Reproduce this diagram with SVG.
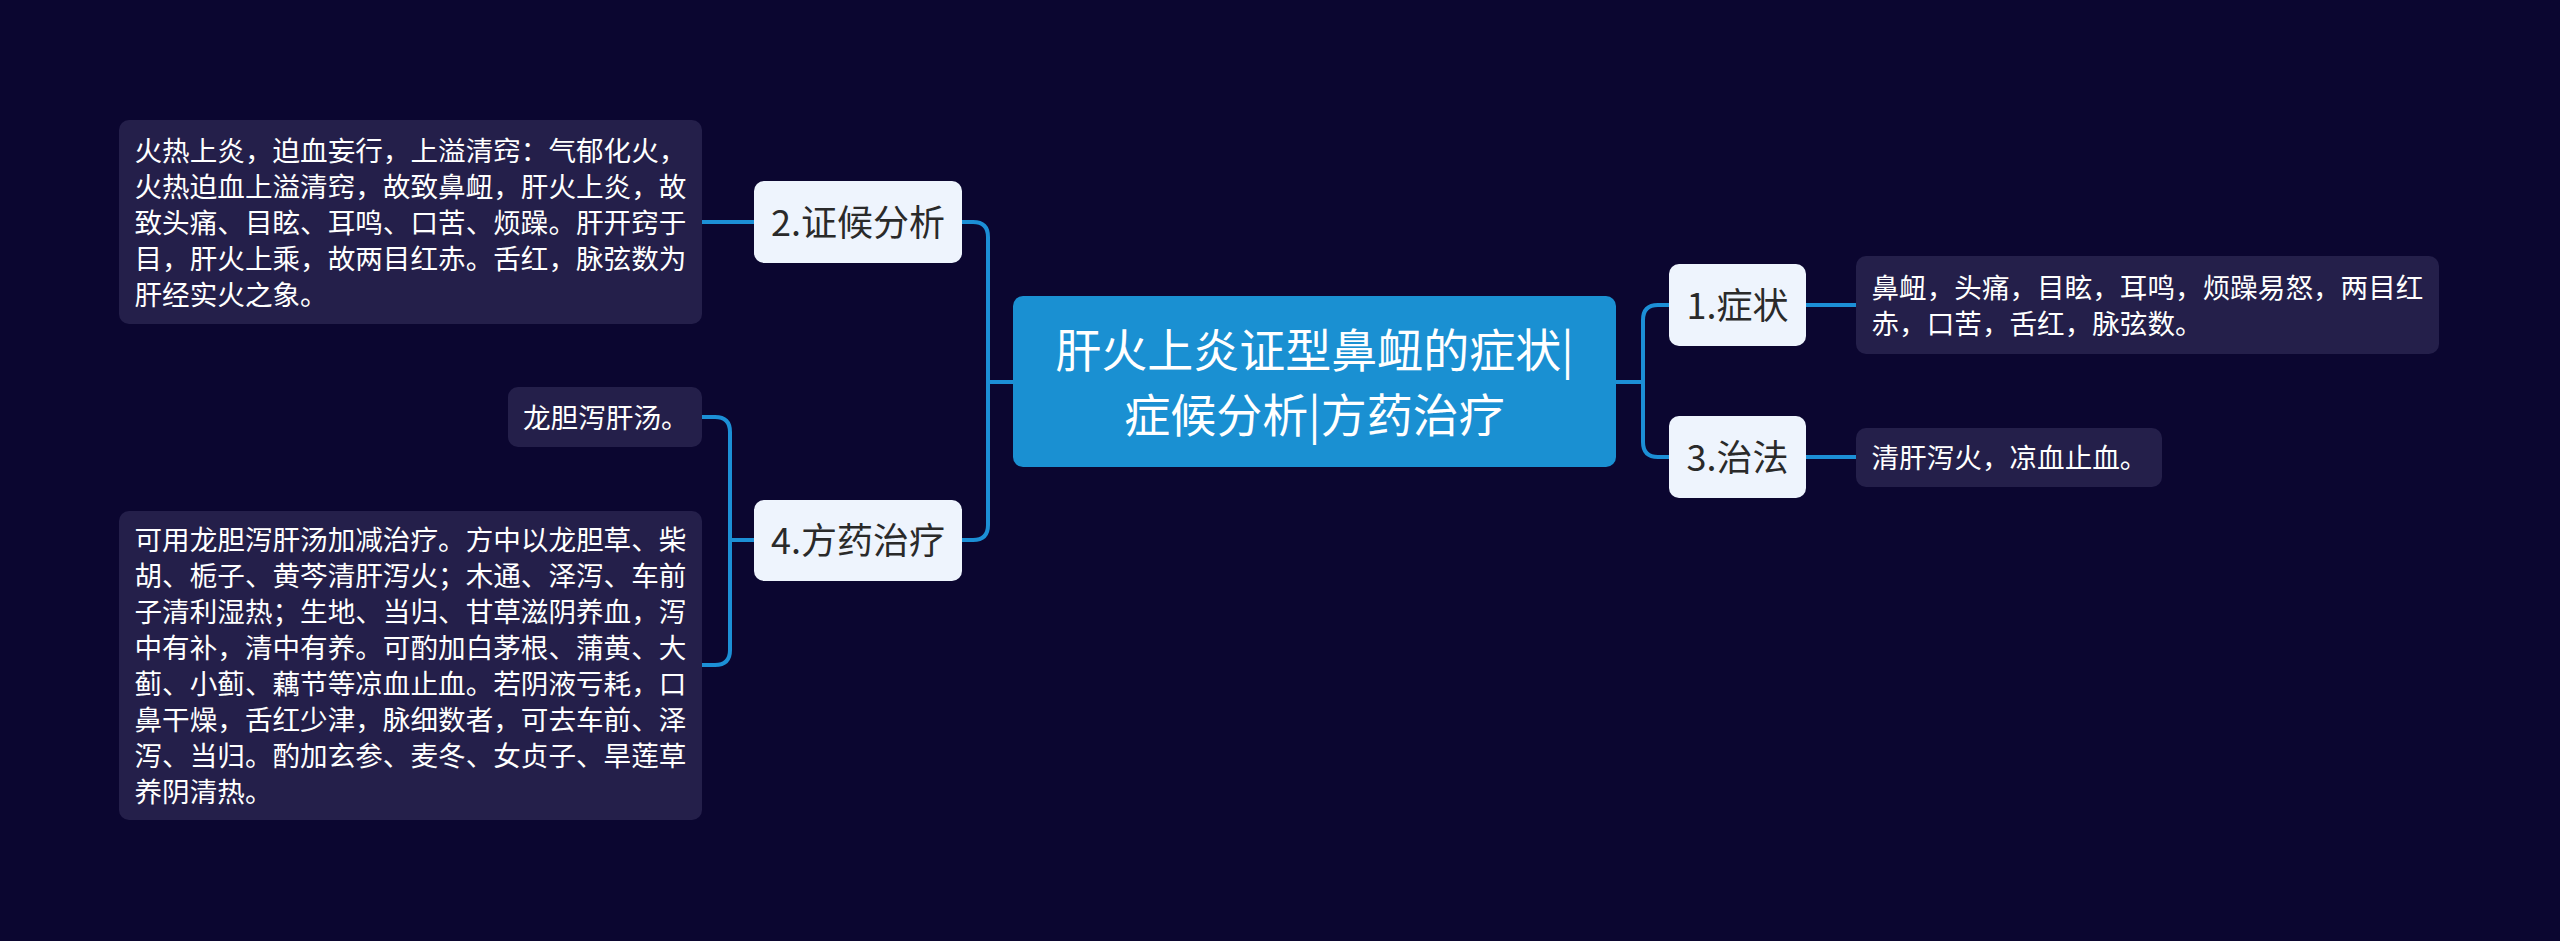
<svg xmlns="http://www.w3.org/2000/svg" width="2560" height="941" viewBox="0 0 2560 941">
<style>
.bg{fill:#0B0630}
.conn{fill:none;stroke:#1C8FD6;stroke-width:4;stroke-linecap:round}
.detail rect{fill:#241F4A}
.detail text{fill:#FFFFFF;font-family:"Noto Sans CJK SC","Noto Sans",sans-serif;font-size:27.6px}
.topic rect{fill:#EEF4FD}
.topic text{fill:#2A2A2A;font-family:"Noto Sans CJK SC","Noto Sans",sans-serif;font-size:36px;text-anchor:middle}
.root rect{fill:#1A90D2}
.root text{fill:#FFFFFF;font-family:"Noto Sans CJK SC","Noto Sans",sans-serif;font-size:46px;text-anchor:middle}
</style>
<rect class="bg" x="0" y="0" width="2560" height="941"/>
<g id="connectors">
<path class="conn" d="M1013,382 H988"/>
<path class="conn" d="M962,222 H973 Q988,222 988,237 V525 Q988,540 973,540 H962"/>
<path class="conn" d="M1616,382 H1643"/>
<path class="conn" d="M1669,305 H1658 Q1643,305 1643,320 V442 Q1643,457 1658,457 H1669"/>
<path class="conn" d="M1806,305 H1856"/>
<path class="conn" d="M1806,457 H1856"/>
<path class="conn" d="M754,222 H702"/>
<path class="conn" d="M754,540 H730"/>
<path class="conn" d="M702,417 H715 Q730,417 730,432 V650 Q730,665 715,665 H702"/>
</g>
<g id="root" class="root">
<rect x="1013" y="296" width="603" height="171" rx="10"/>
<text x="1314.5" y="366.5">肝火上炎证型鼻衄的症状|</text>
<text x="1314.5" y="431.5">症候分析|方药治疗</text>
</g>
<g id="topic-2" class="topic">
<rect x="754" y="181" width="208" height="82" rx="10"/>
<text x="858" y="235.5">2.证候分析</text>
</g>
<g id="topic-4" class="topic">
<rect x="754" y="500" width="208" height="81" rx="10"/>
<text x="858" y="554">4.方药治疗</text>
</g>
<g id="topic-1" class="topic">
<rect x="1669" y="264" width="137" height="82" rx="10"/>
<text x="1737.5" y="318.5">1.症状</text>
</g>
<g id="topic-3" class="topic">
<rect x="1669" y="416" width="137" height="82" rx="10"/>
<text x="1737.5" y="470.5">3.治法</text>
</g>
<g id="detail-2" class="detail">
<rect x="119" y="120" width="583" height="204" rx="10"/>
<text x="134.5" y="160.5">火热上炎，迫血妄行，上溢清窍：气郁化火，</text>
<text x="134.5" y="196.5">火热迫血上溢清窍，故致鼻衄，肝火上炎，故</text>
<text x="134.5" y="232.5">致头痛、目眩、耳鸣、口苦、烦躁。肝开窍于</text>
<text x="134.5" y="268.5">目，肝火上乘，故两目红赤。舌红，脉弦数为</text>
<text x="134.5" y="304.5">肝经实火之象。</text>
</g>
<g id="detail-4a" class="detail">
<rect x="508" y="387" width="194" height="60" rx="10"/>
<text x="523" y="427.5">龙胆泻肝汤。</text>
</g>
<g id="detail-4b" class="detail">
<rect x="119" y="511" width="583" height="309" rx="10"/>
<text x="134.5" y="550">可用龙胆泻肝汤加减治疗。方中以龙胆草、柴</text>
<text x="134.5" y="586">胡、栀子、黄芩清肝泻火；木通、泽泻、车前</text>
<text x="134.5" y="622">子清利湿热；生地、当归、甘草滋阴养血，泻</text>
<text x="134.5" y="658">中有补，清中有养。可酌加白茅根、蒲黄、大</text>
<text x="134.5" y="694">蓟、小蓟、藕节等凉血止血。若阴液亏耗，口</text>
<text x="134.5" y="730">鼻干燥，舌红少津，脉细数者，可去车前、泽</text>
<text x="134.5" y="766">泻、当归。酌加玄参、麦冬、女贞子、旱莲草</text>
<text x="134.5" y="802">养阴清热。</text>
</g>
<g id="detail-1" class="detail">
<rect x="1856" y="256" width="583" height="98" rx="10"/>
<text x="1871.5" y="297.5">鼻衄，头痛，目眩，耳鸣，烦躁易怒，两目红</text>
<text x="1871.5" y="333.5">赤，口苦，舌红，脉弦数。</text>
</g>
<g id="detail-3" class="detail">
<rect x="1856" y="428" width="306" height="59" rx="10"/>
<text x="1871.5" y="468">清肝泻火，凉血止血。</text>
</g>
</svg>
